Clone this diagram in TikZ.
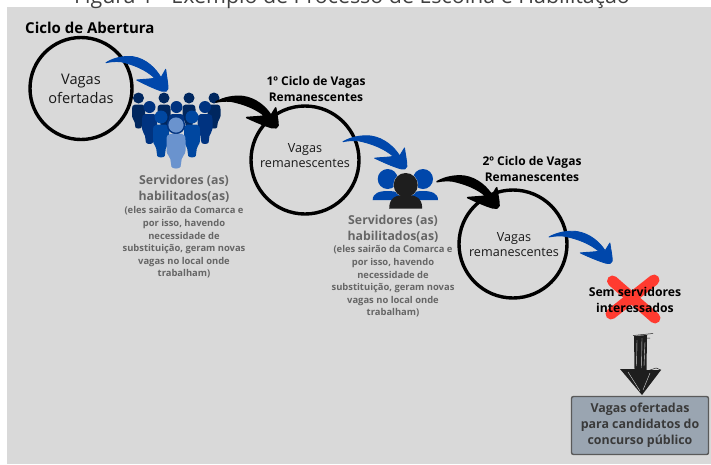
\documentclass[tikz,border=0pt]{standalone}
\usepackage{fontspec}
\setmainfont{Open Sans}
\definecolor{bggray}{HTML}{D9D9D9}
\definecolor{arrowblue}{HTML}{0047AB}
\definecolor{navyA}{HTML}{00275F}
\definecolor{navyB}{HTML}{003380}
\definecolor{navyC}{HTML}{0047A0}
\definecolor{lightblue}{HTML}{6A93CE}
\definecolor{graytext}{HTML}{666666}
\definecolor{inkdark}{HTML}{1E1E1E}
\definecolor{crossred}{HTML}{FF3B30}
\definecolor{boxfill}{HTML}{9AA5B1}
\definecolor{boxline}{HTML}{5A5A5A}
\definecolor{boxtext}{HTML}{3A3A3A}
\newcommand{\fsz}[2]{\fontsize{#1}{#2}\selectfont}
\newcommand{\swoosh}[5]{% start coordinate, xscale, yscale, colour, extra thickness
  \begin{scope}[shift={(#1)},xscale=#2,yscale=#3]
    \filldraw[fill=#4,draw=#4,line width=#5,line join=round]
      (0,0) .. controls (8,-5) and (18,-7) .. (27,-6)
      .. controls (40,-4) and (50,6) .. (55,15)
      -- (59.7,6.6)
      .. controls (60.5,14) and (62,20) .. (62,26)
      .. controls (62,29) and (59,29) .. (56,28.5)
      .. controls (48,26) and (38,21) .. (30.7,17.3)
      .. controls (38,16.5) and (44,16.5) .. (49,15.5)
      .. controls (40,7) and (28,2) .. (15,-1)
      .. controls (9,-1.5) and (4,-1) .. (0,0) -- cycle;
  \end{scope}}
\newcommand{\person}[6]{% x, head y, head r, body w, body h, colour
  \fill[#6] (#1,#2) circle (#3);
  \begin{scope}[shift={(#1,#2+#3+1.2)},xscale=#4,yscale=#5]
    \fill[#6] (-.3,0) -- (.3,0) .. controls (.45,0) and (.5,.08) .. (.5,.18)
      -- (.5,.48) .. controls (.5,.6) and (.33,.62) .. (.3,.72)
      -- (.24,.94) .. controls (.2,1.01) and (-.2,1.01) .. (-.24,.94)
      -- (-.3,.72) .. controls (-.33,.62) and (-.5,.6) .. (-.5,.48)
      -- (-.5,.18) .. controls (-.5,.08) and (-.45,0) .. (-.3,0) -- cycle;
  \end{scope}}
\newcommand{\bust}[7]{% x, head y, head r, half width, body top y, body bottom y, colour
  \fill[#7] (#1,#2) circle (#3);
  \fill[#7] (#1-#4,#6) .. controls (#1-#4,#5+2) and (#1-#4*.55,#5) .. (#1,#5)
    .. controls (#1+#4*.55,#5) and (#1+#4,#5+2) .. (#1+#4,#6) -- cycle;}
\tikzset{
  ring/.style={draw=black,line width=3.4pt,circle,fill=none,inner sep=0pt},
  bold/.style={font=\fsz{12}{16}\bfseries,align=center,inner sep=0pt,text=black},
  vagas/.style={font=\fsz{12.6}{15},align=center,inner sep=0pt,text=black!90},
  head/.style={font=\fsz{12.3}{16}\bfseries,align=center,inner sep=0pt,text=graytext},
  small/.style={font=\fsz{9.4}{12.6}\bfseries,align=center,inner sep=0pt,text=graytext}
}
\begin{document}
\begin{tikzpicture}[x=1pt,y=-1pt]
\useasboundingbox (0,0) rectangle (711,464);
\fill[white] (0,0) rectangle (711,464);
\fill[bggray] (7,7) rectangle (711,464);
\begin{scope}
\clip (0,0) rectangle (711,464);
\node[anchor=base,font=\fsz{21.4}{25},text=black!75,inner sep=0pt] (title) at (352,3) {Figura 1 - Exemplo de Processo de Escolha e Habilitação};
\end{scope}

\node[font=\fsz{15}{18}\bfseries,inner sep=0pt,anchor=west] (ciclo) at (25,28) {Ciclo de Abertura};

% circles
\node[ring,minimum size=102pt] (c1) at (81,88.5) {};
\node[ring,minimum size=108pt] (c2) at (305,160) {};
\node[ring,minimum size=108pt] (c3) at (513,244) {};
\node[font=\fsz{14.6}{19},align=center,inner sep=0pt,text=black!90] (t1) at (81,88.5) {Vagas\\ofertadas};
\node[vagas] (t2) at (305,155.5) {Vagas\\remanescentes};
\node[vagas] (t3) at (514,245) {Vagas\\remanescentes};

% crowd
\person{138.5}{98}{5.5}{13}{24}{navyA}
\person{164}{98}{5.5}{13}{24}{navyA}
\person{189}{98}{5.5}{13}{24}{navyA}
\person{214}{98}{5.5}{13}{24}{navyA}
\person{149.5}{107}{6}{15}{30}{navyB}
\person{176.5}{107}{6}{15}{16}{navyB}
\person{205}{107}{6}{15}{30}{navyB}
\person{161}{117}{6.5}{16}{33}{navyC}
\person{192}{117}{6.5}{16}{33}{navyC}
\fill[navyB] (176,125) circle (9.2);
\person{176}{125}{7.6}{19}{35}{lightblue}

% second group
\bust{387.7}{179}{10}{15}{191}{200}{arrowblue}
\bust{423}{179}{10}{15}{191}{200}{arrowblue}
\filldraw[inkdark,draw=bggray,line width=.7pt] (405.7,185) circle (12);
\bust{405.7}{185}{12}{16.5}{195}{208.5}{inkdark}

% swooshes
\coordinate (s1) at (106,62.7);
\coordinate (s2) at (216,102);
\coordinate (s3) at (343,141.7);
\coordinate (s4) at (437,181.7);
\coordinate (s5) at (549,237);
\swoosh{s1}{1}{1}{arrowblue}{.9pt}
\swoosh{s2}{1}{.9}{black}{1.6pt}
\swoosh{s3}{1.03}{.95}{arrowblue}{.9pt}
\swoosh{s4}{1}{.92}{black}{1.6pt}
\swoosh{s5}{1.02}{.92}{arrowblue}{.9pt}

% labels
\node[bold] (l1) at (316,89) {1º Ciclo de Vagas\\Remanescentes};
\node[bold] (l2) at (532,168.5) {2º Ciclo de Vagas\\Remanescentes};

\node[head] (h1) at (184,189) {Servidores (as)\\habilitados(as)};
\node[small,anchor=north] (n1) at (184,206.5) {(eles sairão da Comarca e\\por isso, havendo\\necessidade de\\substituição, geram novas\\vagas no local onde\\trabalham)};
\node[head] (h2) at (393,228.5) {Servidores (as)\\habilitados(as)};
\node[small,anchor=north] (n2) at (393,245.5) {(eles sairão da Comarca e\\por isso, havendo\\necessidade de\\substituição, geram novas\\vagas no local onde\\trabalham)};

% red cross
\draw[crossred,line width=11pt,line cap=round] (612.5,281) -- (655,318);
\draw[crossred,line width=11pt,line cap=round] (654,280) -- (611,314);
\node[font=\fsz{12.2}{16}\bfseries,align=center,inner sep=0pt] (sem) at (635,299.7) {Sem servidores\\interessados};

% box
\node[draw=boxline,fill=boxfill,line width=1.4pt,rounded corners=2pt,minimum width=137pt,minimum height=58pt,inner sep=0pt,font=\fsz{12.4}{16}\bfseries,align=center,text=boxtext] (box) at (640,425.5) {Vagas ofertadas\\para candidatos do\\concurso público};

% sketched arrow
\coordinate (sk) at (640,334);
\fill[inkdark] (634,336) -- (647,335) -- (646.5,370) -- (661,370) -- (642,395) -- (620,369) -- (634.5,369) -- cycle;
\draw[inkdark,line width=.5pt] (633,335.5) -- (653,333.5) (634,339) -- (650,338) (661,370) -- (656,368) -- (647,371);
\draw[bggray,line width=.4pt] (637,340) -- (636.5,366) (642,338) -- (641.5,368) (645,342) -- (644,366) (628,372) -- (640,391) (650,373) -- (643,390);
\end{tikzpicture}
\end{document}
